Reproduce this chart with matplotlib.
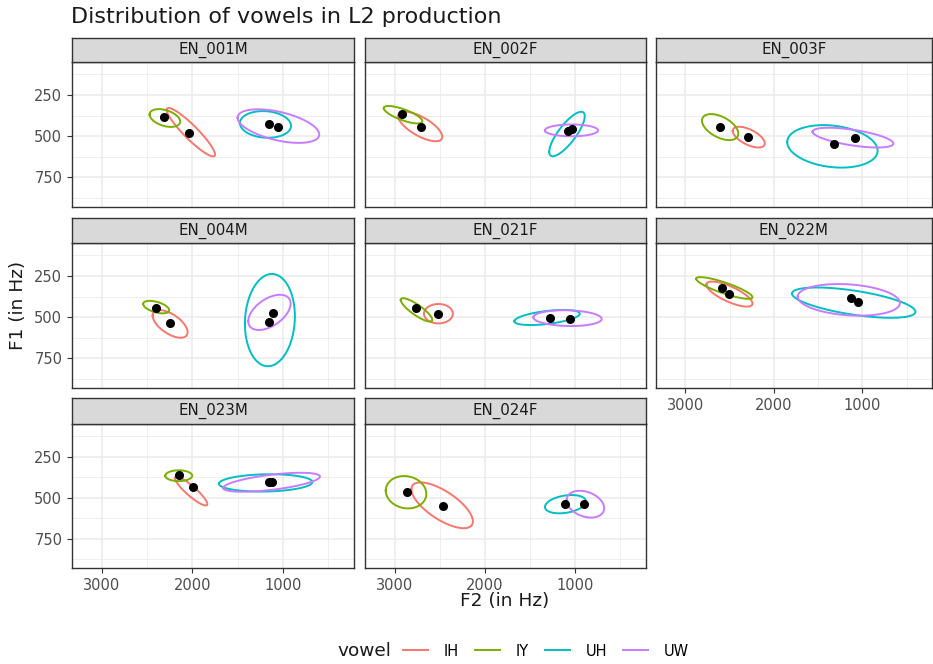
import numpy as np
import matplotlib
matplotlib.use("Agg")
import matplotlib.pyplot as plt
from matplotlib.lines import Line2D

plt.rcParams['font.family'] = ['DejaVu Sans']

speakers = ["EN_001M", "EN_002F", "EN_003F", "EN_004M",
            "EN_021F", "EN_022M", "EN_023M", "EN_024F"]
vowels = ["IH", "IY", "UH", "UW"]
vowel_colors = ["#F8766D", "#7CAE00", "#00BFC4", "#C77CFF"]

# mean F2 / F1 per speaker (rows) and vowel (columns: IH, IY, UH, UW)
mean_f2 = [
    [2035, 2312, 1155, 1052],
    [2709, 2919, 1085, 1030],
    [2289, 2609, 1317, 1086],
    [2249, 2403, 1155, 1114],
    [2522, 2760, 1280, 1059],
    [2501, 2587, 1049, 1124],
    [1998, 2149, 1151, 1120],
    [2466, 2864, 1110, 900],
]
mean_f1 = [
    [482, 384, 427, 443],
    [443, 366, 470, 459],
    [504, 443, 549, 514],
    [538, 446, 530, 475],
    [479, 446, 507, 509],
    [357, 324, 410, 381],
    [433, 364, 407, 404],
    [549, 468, 539, 539],
]

# ellipse parameters: centre, half extents (Hz) and correlation
ell_cx = [
    [2017, 2304, 1193, 1050],
    [2718, 2908, 1091, 1041],
    [2283, 2606, 1339, 1107],
    [2246, 2400, 1144, 1149],
    [2516, 2759, 1312, 1085],
    [2501, 2559, 1098, 1154],
    [2014, 2151, 1191, 1125],
    [2475, 2875, 1108, 887],
]
ell_cy = [
    [476, 390, 429, 439],
    [441, 370, 487, 465],
    [506, 445, 562, 509],
    [541, 439, 518, 471],
    [479, 456, 502, 506],
    [360, 323, 412, 395],
    [460, 366, 410, 406],
    [547, 467, 540, 540],
]
ell_rx = [
    [267, 169, 282, 451],
    [245, 214, 197, 295],
    [181, 205, 510, 456],
    [193, 144, 276, 234],
    [160, 175, 363, 379],
    [260, 318, 696, 577],
    [179, 149, 516, 534],
    [341, 225, 227, 208],
]
ell_ry = [
    [147, 54, 81, 102],
    [90, 53, 135, 36],
    [63, 79, 129, 60],
    [84, 38, 280, 107],
    [59, 71, 46, 48],
    [76, 66, 92, 96],
    [88, 33, 53, 58],
    [140, 99, 56, 82],
]
ell_rho = [
    [-0.92, -0.4, -0.1, -0.5],
    [-0.7, -0.75, 0.8, 0.0],
    [-0.6, -0.5, -0.2, -0.6],
    [-0.6, -0.5, 0.08, 0.5],
    [0.0, -0.85, 0.5, -0.1],
    [-0.75, -0.85, -0.6, -0.2],
    [-0.9, 0.0, 0.1, 0.6],
    [-0.7, -0.1, 0.3, -0.3],
]

x_major = [3000, 2000, 1000]
x_minor = [2500, 1500, 500]
y_major = [250, 500, 750]
y_minor = [125, 375, 625, 875]

W, H = 933, 664
fig = plt.figure(figsize=(W / 100, H / 100), dpi=100)

col_x = [(72, 354), (365, 646), (656, 932)]
row_y = [(38, 62, 207), (218, 243, 388), (398, 424, 568)]  # strip top, plot top, plot bottom

t = np.linspace(0, 2 * np.pi, 200)
grid_col = "#EBEBEB"
border = "#333333"

for i, spk in enumerate(speakers):
    r, c = divmod(i, 3)
    x0, x1 = col_x[c]
    st, pt, pb = row_y[r]
    ax = fig.add_axes([x0 / W, 1 - pb / H, (x1 - x0) / W, (pb - pt) / H])
    sax = fig.add_axes([x0 / W, 1 - pt / H, (x1 - x0) / W, (pt - st) / H])
    sax.set_facecolor("#D9D9D9")
    sax.set_xticks([]); sax.set_yticks([])
    for s in sax.spines.values():
        s.set_color(border); s.set_linewidth(1.0)
    sax.text(0.5, 0.5, spk, ha="center", va="center", fontsize=10.8, color="#1A1A1A",
             transform=sax.transAxes)

    ax.set_xlim(3330, 215)
    ax.set_ylim(930, 50)
    ax.set_xticks(x_major)
    ax.set_xticks(x_minor, minor=True)
    ax.set_yticks(y_major)
    ax.set_yticks(y_minor, minor=True)
    ax.grid(True, which="major", color=grid_col, linewidth=1.1)
    ax.grid(True, which="minor", color=grid_col, linewidth=0.6)
    ax.set_axisbelow(True)
    for s in ax.spines.values():
        s.set_color(border); s.set_linewidth(1.0)
    ax.tick_params(which="minor", length=0)
    ax.tick_params(which="major", length=3.5, color="#333333", labelsize=10.5,
                   labelcolor="#4D4D4D", width=0.8)
    show_x = (r == 2) or (r == 1 and c == 2)
    show_y = (c == 0)
    if not show_x:
        ax.tick_params(axis="x", which="major", length=0, labelbottom=False)
    else:
        ax.set_xticklabels([str(v) for v in x_major])
    if not show_y:
        ax.tick_params(axis="y", which="major", length=0, labelleft=False)
    else:
        ax.set_yticklabels([str(v) for v in y_major])

    for k, v in enumerate(vowels):
        rho = ell_rho[i][k]
        ex = ell_cx[i][k] + ell_rx[i][k] * np.cos(t)
        ey = ell_cy[i][k] + ell_ry[i][k] * (rho * np.cos(t) + np.sqrt(1 - rho ** 2) * np.sin(t))
        ax.plot(ex, ey, color=vowel_colors[k], linewidth=1.4)
    for k, v in enumerate(vowels):
        ax.plot(mean_f2[i][k], mean_f1[i][k], "o", color="black", markersize=5.5)

fig.text(71 / W, 1 - 17 / H, "Distribution of vowels in L2 production", fontsize=16,
         ha="left", va="center", color="#1A1A1A")
fig.text(505 / W, 1 - 601 / H, "F2 (in Hz)", fontsize=13.3, ha="center", va="center",
         color="#1A1A1A")
fig.text(18 / W, 1 - 305 / H, "F1 (in Hz)", fontsize=13.3, ha="center", va="center",
         rotation=90, color="#1A1A1A")

handles = [Line2D([0], [0], color=col, linewidth=1.4) for col in vowel_colors]
fig.text(337 / W, 1 - 651 / H, "vowel", fontsize=13.3, ha="left", va="center",
         color="#1A1A1A")
fig.legend(handles, vowels, loc="center left", bbox_to_anchor=(403 / W, 1 - 651 / H),
           ncol=4, frameon=False, fontsize=10.5, handlelength=1.7, handletextpad=1.1,
           columnspacing=1.1, borderpad=0, borderaxespad=0)

fig.savefig("out.png", dpi=100)
